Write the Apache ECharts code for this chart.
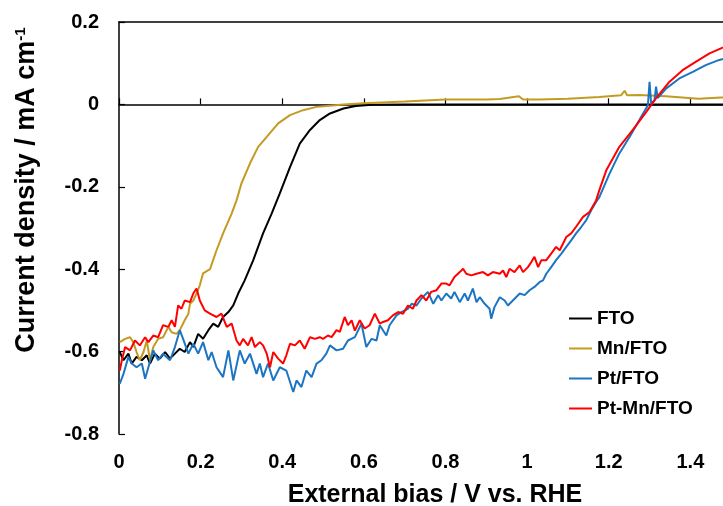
<!DOCTYPE html>
<html>
<head>
<meta charset="utf-8">
<script src="https://cdn.jsdelivr.net/npm/echarts@6/dist/echarts.min.js"></script>
<style>
html,body{margin:0;padding:0;background:#fff;}
#chart{width:723px;height:506px;}
</style>
</head>
<body>
<div id="chart"></div>
<script>
const seriesNames = ['FTO', 'Mn/FTO', 'Pt/FTO', 'Pt-Mn/FTO'];
const xTitle = 'External bias / V vs. RHE';
const yTitle = 'Current density / mA cm';
const yTitleSup = '-1';

const ftoData = [[0.002,-0.601],[0.011,-0.621],[0.023,-0.605],[0.031,-0.629],[0.043,-0.613],[0.056,-0.621],[0.068,-0.609],[0.076,-0.629],[0.088,-0.605],[0.100,-0.617],[0.113,-0.601],[0.125,-0.617],[0.137,-0.605],[0.149,-0.593],[0.161,-0.601],[0.174,-0.577],[0.182,-0.589],[0.194,-0.557],[0.206,-0.569],[0.219,-0.548],[0.231,-0.532],[0.243,-0.540],[0.255,-0.516],[0.268,-0.504],[0.280,-0.488],[0.292,-0.459],[0.308,-0.427],[0.329,-0.378],[0.353,-0.313],[0.374,-0.265],[0.394,-0.216],[0.419,-0.152],[0.443,-0.095],[0.468,-0.062],[0.492,-0.038],[0.517,-0.022],[0.550,-0.010],[0.580,-0.004],[0.620,-0.001],[0.700,0],[1.000,0],[1.480,0]];

const mnData = [[0.002,-0.577],[0.015,-0.569],[0.027,-0.565],[0.035,-0.577],[0.043,-0.601],[0.051,-0.621],[0.060,-0.601],[0.068,-0.573],[0.076,-0.621],[0.084,-0.589],[0.096,-0.569],[0.108,-0.565],[0.121,-0.540],[0.129,-0.553],[0.141,-0.557],[0.149,-0.548],[0.161,-0.524],[0.170,-0.508],[0.174,-0.484],[0.182,-0.476],[0.190,-0.459],[0.198,-0.439],[0.206,-0.410],[0.223,-0.400],[0.239,-0.354],[0.255,-0.313],[0.276,-0.265],[0.288,-0.233],[0.300,-0.192],[0.321,-0.143],[0.341,-0.103],[0.362,-0.079],[0.390,-0.046],[0.419,-0.026],[0.451,-0.014],[0.484,-0.006],[0.516,-0.003],[0.550,0.000],[0.600,0.003],[0.700,0.007],[0.800,0.012],[0.900,0.012],[0.933,0.013],[0.980,0.020],[0.990,0.012],[1.030,0.012],[1.100,0.014],[1.177,0.018],[1.230,0.022],[1.239,0.033],[1.245,0.022],[1.275,0.023],[1.340,0.020],[1.420,0.014],[1.475,0.017],[1.480,0.017]];

const ptData = [[0.002,-0.678],[0.011,-0.654],[0.023,-0.613],[0.031,-0.629],[0.043,-0.638],[0.056,-0.629],[0.064,-0.666],[0.072,-0.638],[0.084,-0.597],[0.096,-0.621],[0.108,-0.605],[0.125,-0.621],[0.137,-0.589],[0.149,-0.548],[0.157,-0.569],[0.170,-0.605],[0.182,-0.581],[0.194,-0.605],[0.206,-0.577],[0.219,-0.621],[0.227,-0.601],[0.239,-0.638],[0.255,-0.662],[0.268,-0.597],[0.280,-0.670],[0.296,-0.597],[0.308,-0.629],[0.321,-0.605],[0.337,-0.654],[0.345,-0.629],[0.353,-0.662],[0.365,-0.629],[0.378,-0.670],[0.394,-0.638],[0.410,-0.646],[0.427,-0.698],[0.435,-0.670],[0.447,-0.686],[0.459,-0.646],[0.472,-0.662],[0.484,-0.629],[0.496,-0.621],[0.508,-0.605],[0.517,-0.585],[0.533,-0.597],[0.549,-0.593],[0.561,-0.573],[0.578,-0.565],[0.594,-0.532],[0.606,-0.589],[0.619,-0.569],[0.631,-0.573],[0.639,-0.536],[0.655,-0.561],[0.663,-0.536],[0.680,-0.512],[0.692,-0.504],[0.708,-0.496],[0.717,-0.484],[0.729,-0.488],[0.741,-0.471],[0.757,-0.455],[0.770,-0.484],[0.782,-0.463],[0.790,-0.476],[0.802,-0.459],[0.814,-0.471],[0.822,-0.455],[0.835,-0.480],[0.847,-0.459],[0.855,-0.476],[0.867,-0.447],[0.876,-0.480],[0.884,-0.468],[0.896,-0.484],[0.908,-0.496],[0.912,-0.520],[0.920,-0.492],[0.933,-0.468],[0.945,-0.476],[0.953,-0.488],[0.965,-0.476],[0.982,-0.459],[0.994,-0.463],[1.006,-0.451],[1.018,-0.443],[1.031,-0.431],[1.039,-0.427],[1.047,-0.411],[1.059,-0.395],[1.071,-0.378],[1.084,-0.362],[1.096,-0.346],[1.108,-0.330],[1.120,-0.313],[1.133,-0.297],[1.145,-0.281],[1.157,-0.257],[1.169,-0.237],[1.177,-0.225],[1.202,-0.168],[1.226,-0.119],[1.251,-0.079],[1.275,-0.038],[1.296,-0.002],[1.300,0.055],[1.304,0.002],[1.312,0.010],[1.316,0.043],[1.320,0.015],[1.341,0.039],[1.373,0.063],[1.406,0.079],[1.439,0.096],[1.471,0.108],[1.480,0.110]];

const ptMnData = [[0.002,-0.646],[0.007,-0.621],[0.015,-0.589],[0.027,-0.597],[0.039,-0.573],[0.051,-0.585],[0.064,-0.565],[0.072,-0.577],[0.084,-0.561],[0.096,-0.565],[0.108,-0.536],[0.121,-0.540],[0.129,-0.524],[0.137,-0.540],[0.145,-0.488],[0.153,-0.496],[0.161,-0.476],[0.174,-0.480],[0.182,-0.459],[0.190,-0.447],[0.198,-0.476],[0.210,-0.500],[0.223,-0.508],[0.239,-0.516],[0.251,-0.508],[0.264,-0.540],[0.276,-0.532],[0.288,-0.573],[0.296,-0.585],[0.304,-0.569],[0.316,-0.585],[0.325,-0.565],[0.333,-0.589],[0.345,-0.577],[0.353,-0.585],[0.362,-0.605],[0.370,-0.638],[0.378,-0.601],[0.390,-0.617],[0.402,-0.629],[0.410,-0.609],[0.419,-0.581],[0.431,-0.585],[0.443,-0.573],[0.455,-0.593],[0.468,-0.565],[0.480,-0.569],[0.492,-0.565],[0.500,-0.569],[0.512,-0.561],[0.521,-0.565],[0.533,-0.548],[0.541,-0.552],[0.553,-0.516],[0.561,-0.536],[0.570,-0.524],[0.578,-0.549],[0.590,-0.524],[0.602,-0.544],[0.614,-0.536],[0.627,-0.508],[0.639,-0.532],[0.647,-0.528],[0.659,-0.524],[0.671,-0.512],[0.684,-0.504],[0.696,-0.508],[0.708,-0.488],[0.720,-0.496],[0.729,-0.476],[0.741,-0.463],[0.753,-0.476],[0.765,-0.455],[0.778,-0.451],[0.790,-0.435],[0.802,-0.435],[0.810,-0.439],[0.822,-0.419],[0.835,-0.407],[0.843,-0.399],[0.851,-0.411],[0.863,-0.415],[0.876,-0.411],[0.892,-0.407],[0.904,-0.415],[0.916,-0.407],[0.933,-0.411],[0.941,-0.403],[0.949,-0.419],[0.957,-0.399],[0.969,-0.407],[0.982,-0.391],[0.990,-0.407],[1.002,-0.395],[1.010,-0.383],[1.018,-0.370],[1.027,-0.395],[1.035,-0.378],[1.047,-0.378],[1.059,-0.362],[1.071,-0.346],[1.080,-0.354],[1.096,-0.322],[1.108,-0.313],[1.120,-0.297],[1.137,-0.273],[1.153,-0.261],[1.169,-0.233],[1.177,-0.208],[1.194,-0.160],[1.226,-0.103],[1.259,-0.062],[1.292,-0.018],[1.316,0.015],[1.349,0.055],[1.381,0.083],[1.414,0.104],[1.447,0.124],[1.475,0.136],[1.480,0.138]];

const FONT = 'Liberation Sans, Arial, sans-serif';
const colors = ['#000000', '#C39B22', '#1B75C2', '#FF0000'];
const allData = [ftoData, mnData, ptData, ptMnData];

const chart = echarts.init(document.getElementById('chart'), null, {renderer: 'canvas'});
const axisLineStyle = {color: '#000', width: 1.5};
chart.setOption({
  animation: false,
  backgroundColor: '#fff',
  grid: {left: 119, top: 22, right: 0, bottom: 72, containLabel: false},
  xAxis: [{
    type: 'value', min: 0, max: 1.48, interval: 0.2,
    axisLine: {show: true, lineStyle: axisLineStyle},
    axisTick: {show: true, inside: true, length: 6, lineStyle: {color: '#000', width: 1.2}},
    axisLabel: {show: true, margin: 18, color: '#000', fontSize: 20, fontWeight: 'bold', fontFamily: FONT, showMaxLabel: false},
    splitLine: {show: false}
  }, {
    type: 'value', position: 'top', min: 0, max: 1.48,
    axisLine: {show: true, onZero: false, lineStyle: axisLineStyle},
    axisTick: {show: false}, axisLabel: {show: false}, splitLine: {show: false}
  }],
  yAxis: {
    type: 'value', min: -0.8, max: 0.2, interval: 0.2,
    axisLine: {show: true, onZero: false, lineStyle: axisLineStyle},
    axisTick: {show: true, inside: true, length: 6, lineStyle: {color: '#000', width: 1.2}},
    axisLabel: {show: true, margin: 20, color: '#000', fontSize: 20, fontWeight: 'bold', fontFamily: FONT},
    splitLine: {show: false}
  },
  legend: {
    orient: 'vertical', left: 569, top: 309, padding: 0,
    icon: 'rect', itemWidth: 23, itemHeight: 2, itemGap: 11,
    textStyle: {color: '#000', fontSize: 19, fontWeight: 'bold', fontFamily: FONT},
    data: seriesNames
  },
  graphic: [{
    type: 'text', x: 435, y: 495,
    style: {text: xTitle, fill: '#000', font: 'bold 25px ' + FONT, align: 'center', verticalAlign: 'middle'}
  }, {
    type: 'text', x: 27, y: 190, rotation: Math.PI / 2,
    style: {
      text: '{m|' + yTitle + '}{s|' + yTitleSup + '}',
      align: 'center', verticalAlign: 'middle',
      rich: {
        m: {fontSize: 27, fontWeight: 'bold', fontFamily: FONT, fill: '#000', color: '#000'},
        s: {fontSize: 15, fontWeight: 'bold', fontFamily: FONT, fill: '#000', color: '#000', verticalAlign: 'top'}
      }
    }
  }],
  series: seriesNames.map((n, i) => ({
    name: n, type: 'line', data: allData[i], showSymbol: false, symbol: 'none',
    lineStyle: {color: colors[i], width: 2}, itemStyle: {color: colors[i]},
    z: 2 + i
  }))
});
</script>
</body>
</html>
